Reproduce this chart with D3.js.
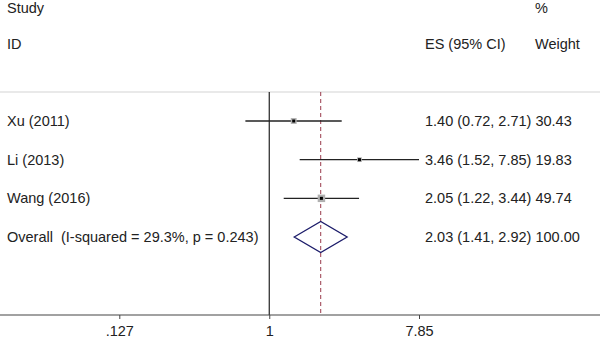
<!DOCTYPE html>
<html>
<head>
<meta charset="utf-8">
<script src="https://cdn.jsdelivr.net/npm/d3@7"></script>
<style>
  body { margin: 0; background: #fff; }
  text { font-family: "Liberation Sans", Arial, sans-serif; font-size: 14.5px; fill: #222; white-space: pre; }
</style>
</head>
<body>
<svg id="chart" width="600" height="339"></svg>
<script>
// study data
let studies = ["Xu (2011)", "Li (2013)", "Wang (2016)"]
let es = [1.40, 3.46, 2.05]
let lower = [0.72, 1.52, 1.22]
let upper = [2.71, 7.85, 3.44]
let weights = [30.43, 19.83, 49.74]

let overallLabel = "Overall  (I-squared = 29.3%, p = 0.243)"
let overall = [2.03, 1.41, 2.92, 100.00]

let tickValues = [0.127, 1, 7.85]
let tickLabels = [".127", "1", "7.85"]

let width = 600, height = 339
let svg = d3.select("#chart")

let x = d3.scaleLog()
  .domain([0.127, 7.85])
  .range([119.3, 419])

let rows = studies.concat([overallLabel])
let y = d3.scalePoint()
  .domain(d3.range(rows.length))
  .range([121, 237])

let plotTop = 92, axisY = 315

function fmt(v) { return v.toFixed(2) }

// faint top rule
svg.append("line")
  .attr("x1", 0).attr("x2", width)
  .attr("y1", plotTop).attr("y2", plotTop)
  .attr("stroke", "#e2e2e2").attr("stroke-width", 1.5)

// null line
svg.append("line")
  .attr("x1", x(1)).attr("x2", x(1))
  .attr("y1", plotTop).attr("y2", axisY)
  .attr("stroke", "#222").attr("stroke-width", 1.2)

// overall effect line
svg.append("line")
  .attr("x1", x(overall[0])).attr("x2", x(overall[0]))
  .attr("y1", plotTop).attr("y2", axisY)
  .attr("stroke", "#9a3a4c").attr("stroke-width", 1)
  .attr("stroke-dasharray", "4,3")

// axis
svg.append("line")
  .attr("x1", 0).attr("x2", width)
  .attr("y1", axisY).attr("y2", axisY)
  .attr("stroke", "#444").attr("stroke-width", 1.2)

let axis = d3.axisBottom(x)
  .tickValues(tickValues)
  .tickFormat((d, i) => tickLabels[i])
  .tickSize(4)
  .tickPadding(7)

let ax = svg.append("g")
  .attr("transform", `translate(0,${axisY})`)
  .call(axis)
ax.select(".domain").remove()
ax.selectAll(".tick line").attr("stroke", "#444")
ax.selectAll(".tick text")
  .style("font-family", "'Liberation Sans', Arial, sans-serif")
  .style("font-size", "14.5px")
  .attr("fill", "#222")

// headers
let headers = [
  {t: "Study", x: 7, y: 13},
  {t: "ID", x: 7, y: 49},
  {t: "%", x: 535, y: 13},
  {t: "ES (95% CI)", x: 425, y: 49},
  {t: "Weight", x: 535, y: 49}
]
svg.selectAll("text.header")
  .data(headers).enter()
  .append("text")
  .attr("class", "header")
  .attr("x", d => d.x).attr("y", d => d.y)
  .text(d => d.t)

// row labels
svg.selectAll("text.label")
  .data(rows).enter()
  .append("text")
  .attr("class", "label")
  .attr("x", 7)
  .attr("y", (d, i) => y(i) + 5)
  .text(d => d)

// CI lines
let g = svg.append("g")
g.selectAll("line.ci")
  .data(studies).enter()
  .append("line")
  .attr("x1", (d, i) => x(lower[i]))
  .attr("x2", (d, i) => x(upper[i]))
  .attr("y1", (d, i) => y(i)).attr("y2", (d, i) => y(i))
  .attr("stroke", "#222").attr("stroke-width", 1.3)

// weight squares
let sq = d3.scaleSqrt().domain([0, 50]).range([0, 7.5])
g.selectAll("rect.w")
  .data(studies).enter()
  .append("rect")
  .attr("x", (d, i) => x(es[i]) - sq(weights[i]) / 2)
  .attr("y", (d, i) => y(i) - sq(weights[i]) / 2)
  .attr("width", (d, i) => sq(weights[i]))
  .attr("height", (d, i) => sq(weights[i]))
  .attr("fill", "#b0b0b0")

// point estimates
g.selectAll("rect.p")
  .data(studies).enter()
  .append("rect")
  .attr("x", (d, i) => x(es[i]) - 1.5)
  .attr("y", (d, i) => y(i) - 1.5)
  .attr("width", 3).attr("height", 3)
  .attr("fill", "#000")

// overall diamond
let oy = y(3)
svg.append("path")
  .attr("d", `M${x(overall[1])},${oy} L${x(overall[0])},${oy - 15.5} L${x(overall[2])},${oy} L${x(overall[0])},${oy + 15.5} Z`)
  .attr("fill", "none")
  .attr("stroke", "#1c1c6a").attr("stroke-width", 1.3)

// ES and weight columns
let esText = studies.map((d, i) => `${fmt(es[i])} (${fmt(lower[i])}, ${fmt(upper[i])}) ${fmt(weights[i])}`)
esText.push(`${fmt(overall[0])} (${fmt(overall[1])}, ${fmt(overall[2])}) ${fmt(overall[3])}`)
svg.selectAll("text.es")
  .data(esText).enter()
  .append("text")
  .attr("class", "es")
  .attr("x", 425)
  .attr("y", (d, i) => y(i) + 5)
  .text(d => d)
</script>
</body>
</html>
